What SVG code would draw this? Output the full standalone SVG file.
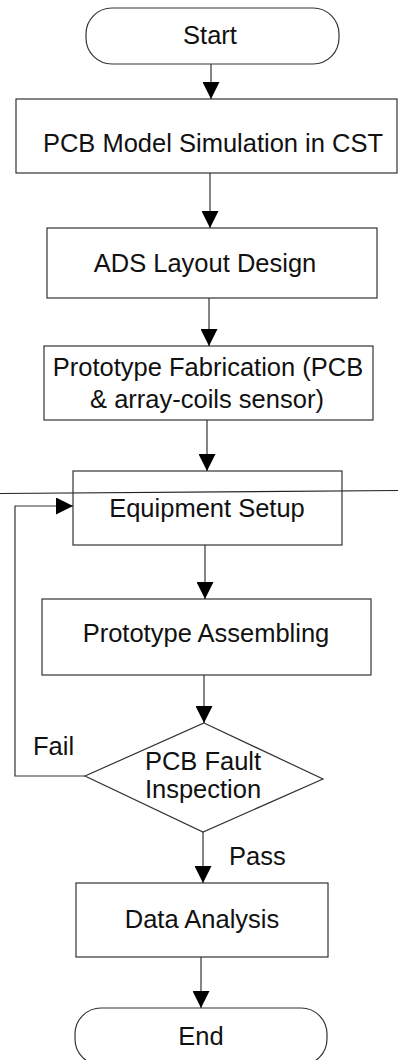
<svg xmlns="http://www.w3.org/2000/svg" width="398" height="1060" viewBox="0 0 398 1060">
<style>
.box{fill:#fff;stroke:#333;stroke-width:1.2}
.t{font-family:"Liberation Sans",Arial,sans-serif;font-size:25.5px;fill:#111;text-anchor:middle}
.lbl{font-family:"Liberation Sans",Arial,sans-serif;font-size:25.5px;fill:#111}
.c{fill:none;stroke:#333;stroke-width:1.2}
</style>
<defs>
<marker id="ah" markerUnits="userSpaceOnUse" markerWidth="17" markerHeight="17" viewBox="0 0 17 17" refX="17" refY="8.5" orient="auto">
<path d="M0,0 L17,8.5 L0,17 Z" fill="#000"/>
</marker>
</defs>
<rect width="398" height="1060" fill="#fff"/>
<g id="scanline">
<line x1="0" y1="493.5" x2="398" y2="490.5" stroke="#222" stroke-width="1.2"/>
</g>
<g id="start">
<rect class="box" x="86" y="8" width="253" height="56" rx="26" ry="26"/>
<text class="t" x="210" y="44">Start</text>
</g>
<g id="pcbsim">
<rect class="box" x="16" y="99" width="381" height="74"/>
<text class="t" x="213" y="152">PCB Model Simulation in CST</text>
</g>
<g id="ads">
<rect class="box" x="47" y="228" width="330" height="70"/>
<text class="t" x="205" y="272">ADS Layout Design</text>
</g>
<g id="fab">
<rect class="box" x="44" y="346" width="329" height="74"/>
<text class="t" x="208" y="376">Prototype Fabrication (PCB</text>
<text class="t" x="207" y="408">&amp; array-coils sensor)</text>
</g>
<g id="equip">
<rect class="box" x="73" y="471" width="269" height="74" fill-opacity="0"/>
<text class="t" x="207" y="517">Equipment Setup</text>
</g>
<g id="assemble">
<rect class="box" x="42" y="599" width="329" height="76"/>
<text class="t" x="206" y="642">Prototype Assembling</text>
</g>
<g id="inspect">
<polygon class="box" points="204,723 323,779 203,832 85,776"/>
<text class="t" x="203" y="770">PCB Fault</text>
<text class="t" x="203" y="798">Inspection</text>
</g>
<g id="data">
<rect class="box" x="76" y="883" width="252" height="74"/>
<text class="t" x="202" y="928">Data Analysis</text>
</g>
<g id="end">
<rect class="box" x="75" y="1008" width="252" height="57" rx="26" ry="26"/>
<text class="t" x="201" y="1045">End</text>
</g>
<g id="connectors">
<line class="c" x1="211" y1="64" x2="211" y2="99" marker-end="url(#ah)"/>
<line class="c" x1="210" y1="173" x2="210" y2="228" marker-end="url(#ah)"/>
<line class="c" x1="209" y1="298" x2="209" y2="346" marker-end="url(#ah)"/>
<line class="c" x1="207" y1="420" x2="207" y2="471" marker-end="url(#ah)"/>
<line class="c" x1="205" y1="545" x2="205" y2="599" marker-end="url(#ah)"/>
<line class="c" x1="204" y1="675" x2="204" y2="723" marker-end="url(#ah)"/>
<line class="c" x1="203" y1="832" x2="203" y2="883" marker-end="url(#ah)"/>
<line class="c" x1="201" y1="957" x2="201" y2="1008" marker-end="url(#ah)"/>
<polyline class="c" points="85,776 15,776 15,506 73,506" marker-end="url(#ah)"/>
<text class="lbl" x="33" y="755">Fail</text>
<text class="lbl" x="229" y="865">Pass</text>
</g>
</svg>
